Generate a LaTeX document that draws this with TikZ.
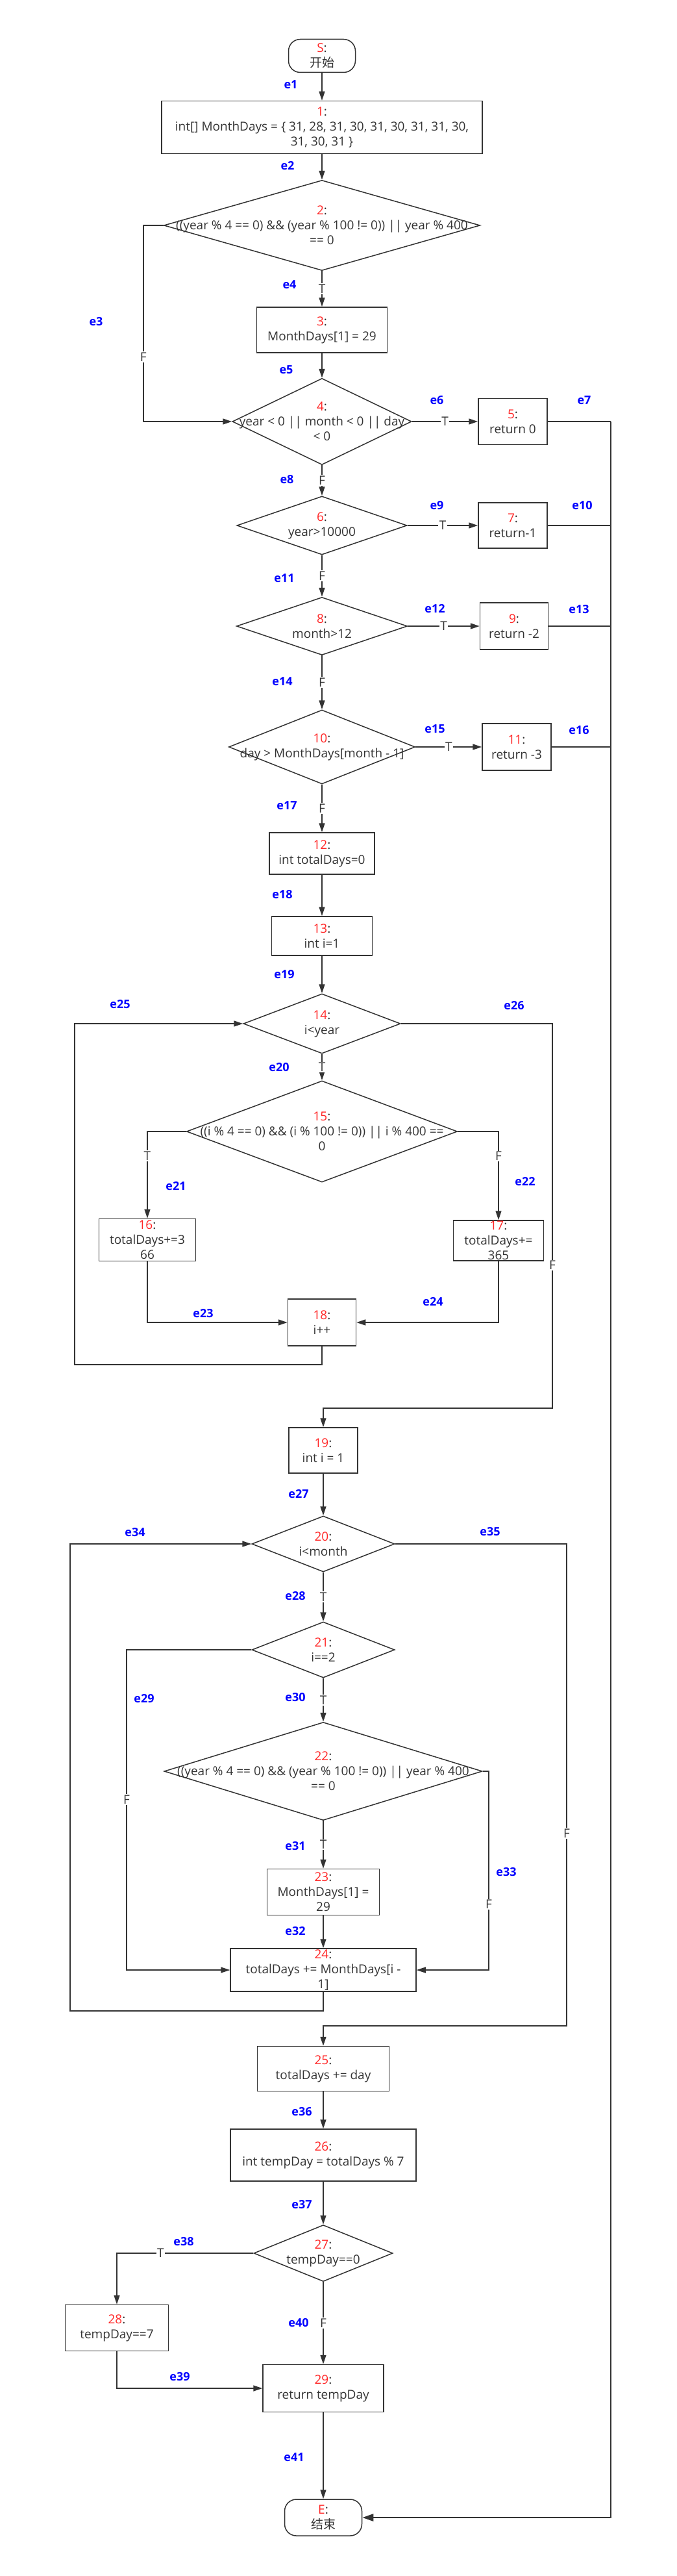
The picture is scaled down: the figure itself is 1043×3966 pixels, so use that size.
\documentclass[tikz,border=0pt]{standalone}
\usepackage{fontspec}
\setmainfont{Open Sans}
\newfontfamily\cjk{Noto Sans CJK SC}
\usetikzlibrary{shapes.geometric,arrows.meta}
\definecolor{ink}{HTML}{333333}
\definecolor{numred}{HTML}{FF2626}
\definecolor{eblue}{HTML}{0000FF}
\newcommand{\nr}[1]{\textcolor{numred}{#1}:}
\tikzset{
  every node/.style={font=\fontsize{19}{23}\selectfont, text=ink},
  stmt/.style={draw=ink, line width=1.5pt, rectangle, inner sep=0pt, align=center},
  cond/.style={draw=ink, line width=1.5pt, diamond, inner sep=0pt},
  term/.style={draw=ink, line width=1.5pt, rectangle, rounded corners=18pt, inner sep=0pt, align=center},
  ctext/.style={align=center, inner sep=0pt},
  line/.style={draw=ink, line width=1.5pt},
  flow/.style={line, -{Triangle[length=14pt,width=9pt]}},
  bus/.style={draw=ink, line width=2.6pt, -{Triangle[length=17pt,width=11pt]}},
  tf/.style={fill=white, inner sep=1.5pt},
  elab/.style={font=\bfseries\fontsize{18}{22}\selectfont, text=eblue}
}

\begin{document}
\begin{tikzpicture}[x=1pt,y=-1pt]
\useasboundingbox (0,0) rectangle (1043,3966);
% nodes
\node[term, minimum width=103pt, minimum height=51pt] (start) at (496,86) {\nr{S}\\{\cjk 开始}};
\node[stmt, minimum width=494pt, minimum height=81pt] (b1) at (496,196) {\nr{1}\\int[] MonthDays = \{ 31, 28, 31, 30, 31, 30, 31, 31, 30,\\31, 30, 31 \}};
\node[cond, minimum width=487pt, minimum height=139pt] (c2) at (496,347) {};
\node[ctext] (t2) at (c2) {\nr{2}\\((year \% 4 == 0) \&\& (year \% 100 != 0)) || year \% 400\\== 0};
\node[stmt, minimum width=201pt, minimum height=70pt] (b3) at (496,508) {\nr{3}\\MonthDays[1] = 29};
\node[cond, minimum width=276pt, minimum height=133pt] (c4) at (496,649) {};
\node[ctext] (t4) at (c4) {\nr{4}\\year < 0 || month < 0 || day\\< 0};
\node[stmt, minimum width=106pt, minimum height=71pt] (b5) at (790,649) {\nr{5}\\return 0};
\node[cond, minimum width=262pt, minimum height=90pt] (c6) at (496,809) {};
\node[ctext] (t6) at (c6) {\nr{6}\\year>10000};
\node[stmt, minimum width=106pt, minimum height=70pt] (b7) at (790,809) {\nr{7}\\return-1};
\node[cond, minimum width=263pt, minimum height=89pt] (c8) at (496,964) {};
\node[ctext] (t8) at (c8) {\nr{8}\\month>12};
\node[stmt, minimum width=105pt, minimum height=72pt] (b9) at (792,964) {\nr{9}\\return -2};
\node[cond, minimum width=287pt, minimum height=114pt] (c10) at (496,1150) {};
\node[ctext] (t10) at (c10) {\nr{10}\\day > MonthDays[month - 1]};
\node[stmt, minimum width=106pt, minimum height=72pt] (b11) at (796,1150) {\nr{11}\\return -3};
\node[stmt, minimum width=162pt, minimum height=64pt] (b12) at (496,1314) {\nr{12}\\int totalDays=0};
\node[stmt, minimum width=155pt, minimum height=60pt] (b13) at (496,1441) {\nr{13}\\int i=1};
\node[cond, minimum width=242pt, minimum height=92pt] (c14) at (496,1576) {};
\node[ctext] (t14) at (c14) {\nr{14}\\i<year};
\node[cond, minimum width=417pt, minimum height=156pt] (c15) at (496,1742) {};
\node[ctext] (t15) at (c15) {\nr{15}\\((i \% 4 == 0) \&\& (i \% 100 != 0)) || i \% 400 ==\\0};
\node[stmt, minimum width=149pt, minimum height=65pt] (b16) at (227,1909) {\nr{16}\\totalDays+=3\\66};
\node[stmt, minimum width=139pt, minimum height=62pt] (b17) at (768,1910) {\nr{17}\\totalDays+=\\365};
\node[stmt, minimum width=105pt, minimum height=72pt] (b18) at (496,2036) {\nr{18}\\i++};
\node[stmt, minimum width=106pt, minimum height=70pt] (b19) at (498,2233) {\nr{19}\\int i = 1};
\node[cond, minimum width=220pt, minimum height=86pt] (c20) at (498,2377) {};
\node[ctext] (t20) at (c20) {\nr{20}\\i<month};
\node[cond, minimum width=220pt, minimum height=86pt] (c21) at (498,2540) {};
\node[ctext] (t21) at (c21) {\nr{21}\\i==2};
\node[cond, minimum width=490pt, minimum height=151pt] (c22) at (498,2727) {};
\node[ctext] (t22) at (c22) {\nr{22}\\((year \% 4 == 0) \&\& (year \% 100 != 0)) || year \% 400\\== 0};
\node[stmt, minimum width=173pt, minimum height=71pt] (b23) at (498,2913) {\nr{23}\\MonthDays[1] =\\29};
\node[stmt, minimum width=286pt, minimum height=66pt] (b24) at (498,3033) {\nr{24}\\totalDays += MonthDays[i -\\1]};
\node[stmt, minimum width=203pt, minimum height=69pt] (b25) at (498,3185) {\nr{25}\\totalDays += day};
\node[stmt, minimum width=286pt, minimum height=80pt] (b26) at (498,3318) {\nr{26}\\int tempDay = totalDays \% 7};
\node[cond, minimum width=214pt, minimum height=87pt] (c27) at (498,3469) {};
\node[ctext] (t27) at (c27) {\nr{27}\\tempDay==0};
\node[stmt, minimum width=159pt, minimum height=71pt] (b28) at (180,3584) {\nr{28}\\tempDay==7};
\node[stmt, minimum width=186pt, minimum height=73pt] (b29) at (498,3677) {\nr{29}\\return tempDay};
\node[term, minimum width=119pt, minimum height=56pt] (end) at (498,3876) {\nr{E}\\{\cjk 结束}};
\coordinate (top) at (941,649);
% connectors
\draw[flow] (start.south) -- (b1.north);
\draw[flow] (b1.south) -- (c2.north);
\draw[flow] (c2.west) -- ++(-31,0) |- node[tf,pos=0.335]{F} (c4.west);
\draw[flow] (c2.south) -- node[tf]{T} (b3.north);
\draw[flow] (b3.south) -- (c4.north);
\draw[flow] (c4.east) -- node[tf]{T} (b5.west);
\draw[line] (b5.east) -- (top);
\draw[flow] (c4.south) -- node[tf]{F} (c6.north);
\draw[flow] (c6.east) -- node[tf]{T} (b7.west);
\draw[line] (b7.east) -- (b7.east -| top);
\draw[flow] (c6.south) -- node[tf]{F} (c8.north);
\draw[flow] (c8.east) -- node[tf]{T} (b9.west);
\draw[line] (b9.east) -- (b9.east -| top);
\draw[flow] (c8.south) -- node[tf]{F} (c10.north);
\draw[flow] (c10.east) -- node[tf]{T} (b11.west);
\draw[line] (b11.east) -- (b11.east -| top);
\draw[bus] (top) |- (end.east);
\draw[flow] (c10.south) -- node[tf]{F} (b12.north);
\draw[flow] (b12.south) -- (b13.north);
\draw[flow] (b13.south) -- (c14.north);
\draw[flow] (c14.south) -- node[tf]{T} (c15.north);
\draw[flow] (c15.west) -| node[tf,pos=0.64]{T} (b16.north);
\draw[flow] (c15.east) -| node[tf,pos=0.64]{F} (b17.north);
\draw[flow] (b16.south) |- (b18.west);
\draw[flow] (b17.south) |- (b18.east);
\draw[flow] (b18.south) -- (496,2101) -- (115,2101) |- (c14.west);
\draw[flow] (c14.east) -| node[tf,pos=0.814]{F} (851,2168) -| (b19.north);
\draw[flow] (b19.south) -- (c20.north);
\draw[flow] (c20.south) -- node[tf]{T} (c21.north);
\draw[flow] (c21.west) -- (195,2540) |- node[tf,pos=0.234]{F} (b24.west);
\draw[flow] (c21.south) -- node[tf]{T} (c22.north);
\draw[flow] (c22.south) -- node[tf]{T} (b23.north);
\draw[flow] (b23.south) -- (b24.north);
\draw[flow] (c22.east) -- (753,2727) |- node[tf,pos=0.335]{F} (b24.east);
\draw[flow] (b24.south) -- (498,3096) -- (108,3096) |- (c20.west);
\draw[flow] (c20.east) -| node[tf,pos=0.80]{F} (873,3119) -| (b25.north);
\draw[flow] (b25.south) -- (b26.north);
\draw[flow] (b26.south) -- (c27.north);
\draw[flow] (c27.west) -| node[tf,pos=0.34]{T} (b28.north);
\draw[flow] (b28.south) |- (b29.west);
\draw[flow] (c27.south) -- node[tf]{F} (b29.north);
\draw[flow] (b29.south) -- (end.north);
% edge names
\node[elab] (l1) at (448,130) {e1};
\node[elab] (l2) at (443,255) {e2};
\node[elab] (l3) at (148,495) {e3};
\node[elab] (l4) at (446,438) {e4};
\node[elab] (l5) at (441,569) {e5};
\node[elab] (l6) at (673,616) {e6};
\node[elab] (l7) at (900,616) {e7};
\node[elab] (l8) at (442,738) {e8};
\node[elab] (l9) at (673,778) {e9};
\node[elab] (l10) at (897,778) {e10};
\node[elab] (l11) at (438,890) {e11};
\node[elab] (l12) at (670,937) {e12};
\node[elab] (l13) at (892,938) {e13};
\node[elab] (l14) at (435,1049) {e14};
\node[elab] (l15) at (670,1122) {e15};
\node[elab] (l16) at (892,1124) {e16};
\node[elab] (l17) at (442,1240) {e17};
\node[elab] (l18) at (435,1377) {e18};
\node[elab] (l19) at (438,1500) {e19};
\node[elab] (l20) at (430,1643) {e20};
\node[elab] (l21) at (271,1826) {e21};
\node[elab] (l22) at (809,1819) {e22};
\node[elab] (l23) at (313,2022) {e23};
\node[elab] (l24) at (667,2004) {e24};
\node[elab] (l25) at (185,1546) {e25};
\node[elab] (l26) at (792,1548) {e26};
\node[elab] (l27) at (460,2300) {e27};
\node[elab] (l28) at (455,2457) {e28};
\node[elab] (l29) at (222,2615) {e29};
\node[elab] (l30) at (455,2613) {e30};
\node[elab] (l31) at (455,2842) {e31};
\node[elab] (l32) at (455,2973) {e32};
\node[elab] (l33) at (780,2882) {e33};
\node[elab] (l34) at (208,2359) {e34};
\node[elab] (l35) at (755,2358) {e35};
\node[elab] (l36) at (465,3251) {e36};
\node[elab] (l37) at (465,3394) {e37};
\node[elab] (l38) at (283,3451) {e38};
\node[elab] (l39) at (277,3659) {e39};
\node[elab] (l40) at (460,3576) {e40};
\node[elab] (l41) at (453,3783) {e41};
\end{tikzpicture}
\end{document}
